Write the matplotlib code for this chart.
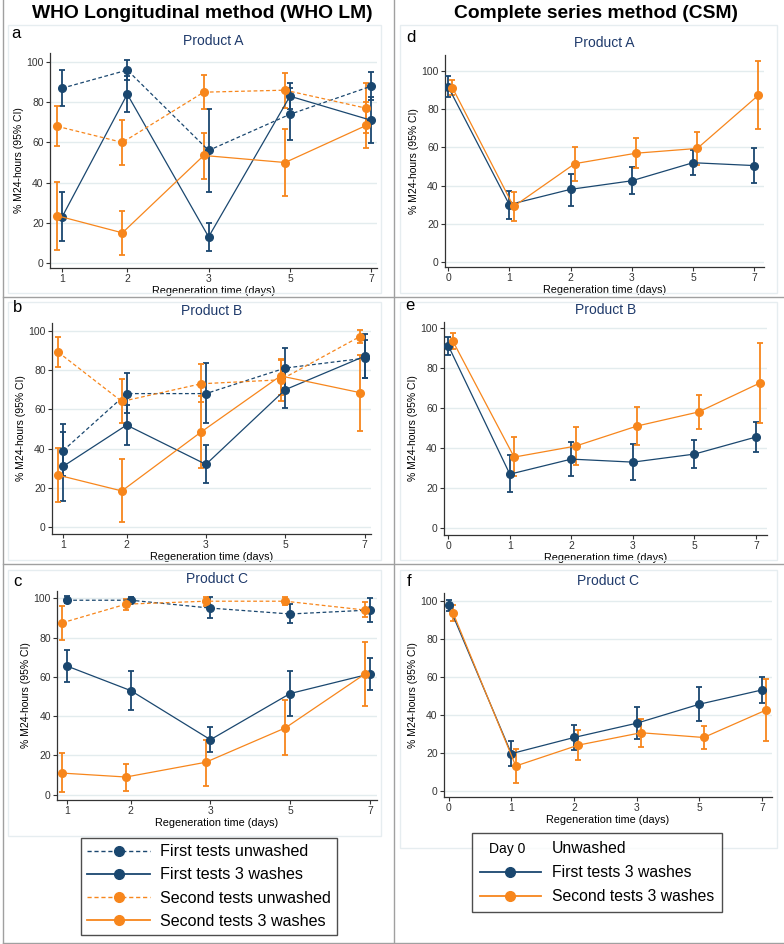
import numpy as np
import matplotlib
matplotlib.use('Agg')
import matplotlib.pyplot as plt
from matplotlib.lines import Line2D
from matplotlib.patches import Rectangle

plt.rcParams['font.family'] = ['Liberation Sans', 'DejaVu Sans']

NAVY = '#1a476f'
ORANGE = '#f7861c'
GRID = '#e3ecee'

# ---- data: left column (WHO LM), days 1,2,3,5,7 ----
days_lm = ['1', '2', '3', '5', '7']
# each series: (mean, low, high)
a_first_unw = ([87, 96, 56, 74, 88], [78, 91, 35.5, 61, 81], [96, 101, 76.5, 87, 95])
a_first_3w = ([23, 84, 13, 83, 71], [11, 75, 6, 76.5, 59.5], [35.5, 93, 20, 89.5, 82.5])
a_second_unw = ([68, 60, 85, 86, 77], [58, 49, 76.5, 77, 64.5], [78, 71, 93.5, 94.5, 89.5])
a_second_3w = ([23.5, 15, 53.5, 50, 68.5], [6.5, 4, 42, 33.5, 57], [40.5, 26, 64.5, 66.5, 80])

b_first_unw = ([39, 68, 68, 81, 86], [26, 58, 53, 71, 76], [52.5, 78.5, 83.5, 91, 95.5])
b_first_3w = ([31, 52, 32, 70, 87], [13.5, 42, 22.5, 60.5, 76], [48.5, 62, 42, 79.5, 98.5])
b_second_unw = ([89, 64, 73, 75, 97], [81.5, 53, 63.5, 64, 93.5], [97, 75.5, 83, 85.5, 100.5])
b_second_3w = ([26.5, 18.5, 48.5, 77, 68.5], [13, 2.5, 30, 67.5, 49], [40.5, 34.5, 67, 85, 87.5])

c_first_unw = ([99, 99, 95, 92, 94], [97.5, 97.5, 90, 87.5, 88], [101, 100.5, 100.5, 97, 100])
c_first_3w = ([65.5, 53, 28, 51.5, 61.5], [57.5, 43, 21.5, 40, 53.5], [73.5, 63, 34.5, 63, 69.5])
c_second_unw = ([87.5, 97, 98.5, 98.5, 94], [79, 94, 96, 96.5, 90.5], [96, 99.5, 100.5, 100.5, 98])
c_second_3w = ([11, 9, 16.5, 34, 61.5], [1.5, 2, 4.5, 20, 45], [21, 15.5, 28, 48, 77.5])

# ---- data: right column (CSM), days 0,1,2,3,5,7 ----
days_csm = ['0', '1', '2', '3', '5', '7']
d_first = ([92, 30, 38, 42.5, 52, 50.5], [86.5, 22.5, 29.5, 35.5, 45.5, 41.5], [97.5, 37, 46, 49.5, 58.5, 59.5])
d_second = ([91.5, 29, 51.5, 57, 59.5, 87.5], [87.5, 21.5, 42.5, 49, 51, 69.5], [95.5, 36.5, 60.5, 65, 68, 105.5])

e_first = ([91, 27, 34.5, 33, 37, 45.5], [86.5, 18, 26, 24, 30, 38], [95.5, 36.5, 43, 42, 44, 53])
e_second = ([93.5, 35.5, 41, 51, 58, 72.5], [89.5, 26, 31.5, 41.5, 49.5, 52.5], [97.5, 45.5, 50.5, 60.5, 66.5, 92.5])

f_first = ([97.5, 19.5, 28, 35.5, 45.5, 53], [94.5, 13, 21.5, 27, 36.5, 46], [100.5, 26, 34.5, 44, 54.5, 60])
f_second = ([93.5, 13, 24, 30.5, 28, 42.5], [89.5, 4, 16, 23, 22, 26], [97.5, 22, 32, 37.5, 34, 59])

W, H = 784, 944
fig = plt.figure(figsize=(W / 100, H / 100), dpi=100)


def add_ax(l, t, r, b):
    return fig.add_axes([l / W, 1 - b / H, (r - l) / W, (b - t) / H])


def draw_series(ax, x, s, color, ls):
    m, lo, hi = (np.array(v, dtype=float) for v in s)
    ax.errorbar(x, m, yerr=[m - lo, hi - m], fmt='none', ecolor=color,
                elinewidth=1.3, capsize=2.5, capthick=1.3, zorder=3)
    ax.plot(x, m, color=color, ls=ls, lw=0.9, marker='o', ms=5.5, zorder=4,
            dashes=(3, 2) if ls == '--' else (None, None))


def style_ax(ax, title, letter, ticks, labels, xlim, ylim):
    ax.set_xlim(*xlim)
    ax.set_ylim(*ylim)
    ax.set_yticks([0, 20, 40, 60, 80, 100])
    ax.set_xticks(ticks)
    ax.set_xticklabels(labels)
    ax.grid(axis='y', color=GRID, lw=1)
    ax.set_axisbelow(True)
    for s in ['top', 'right']:
        ax.spines[s].set_visible(False)
    for s in ['left', 'bottom']:
        ax.spines[s].set_color('#333333')
        ax.spines[s].set_linewidth(0.9)
    ax.tick_params(labelsize=7.5, length=3, width=0.8, colors='#333333', pad=1.5)
    ax.set_ylabel('% M24-hours (95% CI)', fontsize=7.5, labelpad=2)
    ax.set_xlabel('Regeneration time (days)', fontsize=7.8, labelpad=1)
    ax.set_title(title, fontsize=10, color='#1f3a6b', pad=6)
    lx, ly = letter[1]
    fig.text(lx / W, 1 - ly / H, letter[0], fontsize=12, ha='left', va='center')


# panel frames
for (l, t, r, b) in [(8, 25, 381, 293), (8, 302, 381, 560), (8, 570, 381, 836),
                     (400, 25, 777, 293), (400, 302, 777, 560), (400, 570, 777, 848)]:
    fig.patches.append(Rectangle((l / W, 1 - b / H), (r - l) / W, (b - t) / H,
                                 transform=fig.transFigure, fill=False,
                                 ec='#e6edf0', lw=1))
for xs, ys in [([2.5, 2.5], [0, 943]), ([394, 394], [0, 943]), ([2.5, 784], [297, 297]),
               ([2.5, 784], [564, 564]), ([2.5, 784], [942.5, 942.5])]:
    fig.lines.append(Line2D([x / W for x in xs], [1 - y / H for y in ys],
                            transform=fig.transFigure, color='#a0a0a0', lw=1))

pos_lm = np.array([0.2, 1, 2, 3, 4])
pos_csm = np.arange(6)
off_lm = 0.06
off_csm = 0.07

left_panels = [
    ((50, 53, 377, 268), (0.05, 4.07), (-2.5, 104.5), 'Product A', ('a', (11, 33)),
     (a_first_unw, a_first_3w, a_second_unw, a_second_3w)),
    ((52, 323, 371, 534), (0.06, 4.08), (-3.4, 103.9), 'Product B', ('b', (13, 308)),
     (b_first_unw, b_first_3w, b_second_unw, b_second_3w)),
    ((57, 591, 377, 800), (0.075, 4.09), (-2.7, 103.7), 'Product C', ('c', (13, 582)),
     (c_first_unw, c_first_3w, c_second_unw, c_second_3w)),
]
for box, xl, yl, title, letter, ser in left_panels:
    ax = add_ax(*box)
    draw_series(ax, pos_lm, ser[0], NAVY, '--')
    draw_series(ax, pos_lm, ser[1], NAVY, '-')
    draw_series(ax, pos_lm - off_lm, ser[2], ORANGE, '--')
    draw_series(ax, pos_lm - off_lm, ser[3], ORANGE, '-')
    style_ax(ax, title, letter, pos_lm, days_lm, xl, yl)

right_panels = [
    ((445, 55, 764, 267), (-0.05, 5.16), (-2.8, 108.6), 'Product A', ('d', (406, 37)), (d_first, d_second)),
    ((444, 322, 767, 535), (-0.07, 5.18), (-3.3, 102.8), 'Product B', ('e', (405, 305)), (e_first, e_second)),
    ((444, 593, 772, 797), (-0.075, 5.16), (-3.3, 104), 'Product C', ('f', (407, 581)), (f_first, f_second)),
]
for box, xl, yl, title, letter, ser in right_panels:
    ax = add_ax(*box)
    draw_series(ax, pos_csm, ser[0], NAVY, '-')
    draw_series(ax, pos_csm + off_csm, ser[1], ORANGE, '-')
    style_ax(ax, title, letter, pos_csm, days_csm, xl, yl)

# column headers
fig.text(202 / W, 1 - 14 / H, 'WHO Longitudinal method (WHO LM)', fontsize=13.9,
         fontweight='bold', ha='center', va='center')
fig.text(596 / W, 1 - 14 / H, 'Complete series method (CSM)', fontsize=13.9,
         fontweight='bold', ha='center', va='center')

# legends
h_left = [
    Line2D([], [], color=NAVY, ls='--', dashes=(3, 2), lw=1, marker='o', ms=7),
    Line2D([], [], color=NAVY, ls='-', lw=1.3, marker='o', ms=7),
    Line2D([], [], color=ORANGE, ls='--', dashes=(3, 2), lw=1, marker='o', ms=7),
    Line2D([], [], color=ORANGE, ls='-', lw=1.3, marker='o', ms=7),
]
lab_left = ['First tests unwashed', 'First tests 3 washes',
            'Second tests unwashed', 'Second tests 3 washes']
leg1 = fig.legend(h_left, lab_left, loc='center', bbox_to_anchor=(209 / W, 1 - 886.5 / H),
                  fontsize=11.6, frameon=True, fancybox=False, edgecolor='#222222',
                  handlelength=3.9, handletextpad=0.6, labelspacing=0.5,
                  borderpad=0.4, borderaxespad=0)
leg1.get_frame().set_linewidth(1)

h_right = [
    Line2D([], [], ls='none'),
    Line2D([], [], color=NAVY, ls='-', lw=1.3, marker='o', ms=7),
    Line2D([], [], color=ORANGE, ls='-', lw=1.3, marker='o', ms=7),
]
lab_right = ['Unwashed', 'First tests 3 washes', 'Second tests 3 washes']
leg2 = fig.legend(h_right, lab_right, loc='center', bbox_to_anchor=(597 / W, 1 - 872.5 / H),
                  fontsize=11.3, frameon=True, fancybox=False, edgecolor='#222222',
                  handlelength=3.9, handletextpad=0.7, labelspacing=0.6,
                  borderpad=0.5, borderaxespad=0)
leg2.get_frame().set_linewidth(1)
fig.text(507 / W, 1 - 849 / H, 'Day 0', fontsize=10, ha='center', va='center', zorder=10)

fig.savefig('out.png', dpi=100)
